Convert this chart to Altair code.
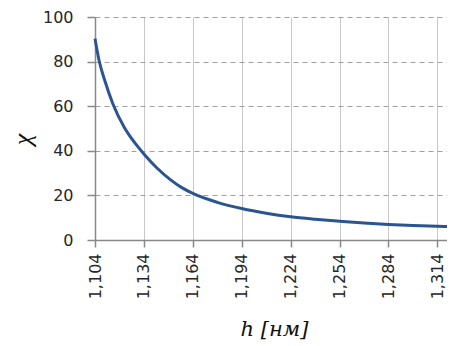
import altair as alt
import pandas as pd

# Data
h_values = [1.104, 1.1065, 1.110, 1.115, 1.122, 1.128, 1.134, 1.142, 1.150, 1.157, 1.164,
            1.179, 1.194, 1.209, 1.224, 1.239, 1.254, 1.269, 1.284, 1.299, 1.314, 1.3235]
chi_values = [90.3, 80.5, 71.5, 61.0, 50.5, 44.0, 38.6, 32.3, 27.2, 23.6, 20.9,
              16.9, 14.1, 12.0, 10.4, 9.3, 8.4, 7.6, 6.95, 6.5, 6.15, 5.95]
x_ticks = [1.104, 1.134, 1.164, 1.194, 1.224, 1.254, 1.284, 1.314]
y_ticks = [0, 20, 40, 60, 80, 100]

df = pd.DataFrame({"h": h_values, "chi": chi_values})

chart = alt.Chart(df).mark_line(
    color="#2B5492", strokeWidth=3, interpolate="monotone"
).encode(
    x=alt.X(
        "h:Q",
        scale=alt.Scale(domain=[1.104, 1.3236], nice=False, zero=False),
        axis=alt.Axis(
            values=x_ticks,
            labelExpr="replace(format(datum.value, '.3f'), '.', ',')",
            labelAngle=-90,
            labelFlush=False,
            labelOverlap=False,
            title="h [нм]",
            grid=True,
            gridColor="#C8C8C8",
            gridWidth=1,
            domainColor="#888888",
            domainWidth=1.5,
            tickColor="#888888",
            tickWidth=1.5,
            tickSize=7,
            labelPadding=6,
            labelFont="DejaVu Sans",
            labelFontSize=16,
            labelColor="#262626",
            titleFont="DejaVu Serif",
            titleFontStyle="italic",
            titleFontWeight="normal",
            titleFontSize=21,
            titleColor="#111111",
            titleBaseline="alphabetic",
            titleY=95,
        ),
    ),
    y=alt.Y(
        "chi:Q",
        scale=alt.Scale(domain=[0, 100], nice=False),
        axis=alt.Axis(
            values=y_ticks,
            title="χ",
            grid=True,
            gridDash=[5, 4],
            gridColor="#A0A0A0",
            gridWidth=1,
            domainColor="#888888",
            domainWidth=1.5,
            tickColor="#888888",
            tickWidth=1.5,
            tickSize=8,
            labelPadding=14,
            labelFlush=False,
            labelOverlap=False,
            labelFont="DejaVu Sans",
            labelFontSize=16,
            labelColor="#262626",
            titleFont="Liberation Serif",
            titleFontStyle="italic",
            titleFontWeight="normal",
            titleFontSize=26,
            titleColor="#111111",
            titleAngle=-90,
            titleAlign="center",
            titleBaseline="middle",
            titleX=-73,
            titleY=122,
        ),
    ),
).properties(
    width=358,
    height=223,
    autosize=alt.AutoSizeParams(type="none"),
    padding={"left": 87, "top": 9, "right": -6, "bottom": 104},
).configure_view(stroke=None)

chart.save("out.html", embed_options={"renderer": "svg", "actions": False})
